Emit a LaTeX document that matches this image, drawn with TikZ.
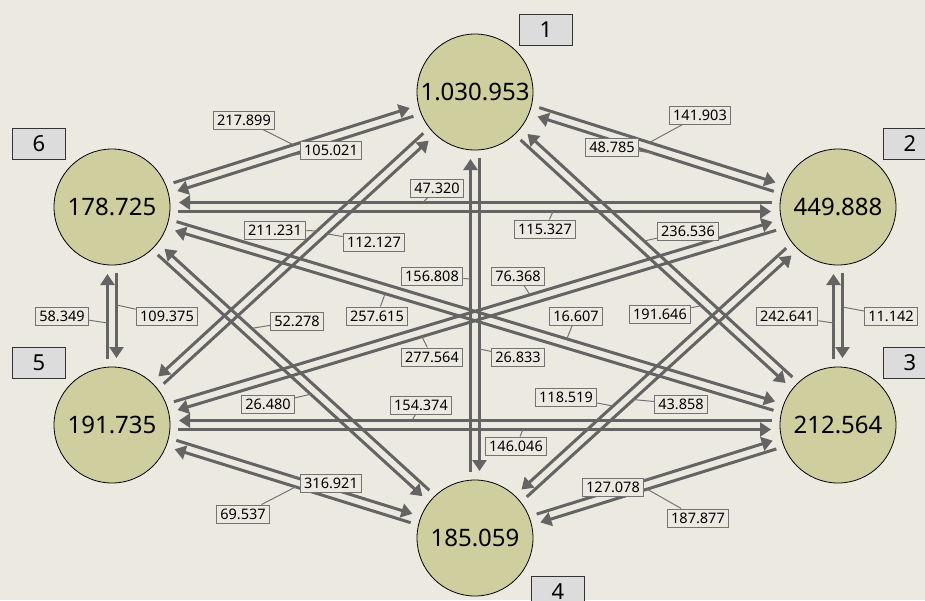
\documentclass[tikz,border=0pt]{standalone}
\usepackage{fontspec}
\setmainfont{Noto Sans}
\usetikzlibrary{calc,arrows.meta}
\definecolor{bg}{RGB}{236,234,224}
\definecolor{ballc}{RGB}{206,206,158}
\definecolor{flowc}{RGB}{100,100,100}
\definecolor{tagc}{RGB}{220,220,220}
\definecolor{valc}{RGB}{115,115,115}
\tikzset{
  ball/.style={circle,draw=black,line width=0.8pt,fill=ballc,minimum size=116pt,inner sep=0pt,font=\fontsize{24}{28}\selectfont},
  flowline/.style={draw=flowc,line width=3pt,shorten <=66pt,shorten >=67pt,-{Triangle[length=11pt,width=14pt]}},
  val/.style={draw=valc,line width=1pt,fill=bg,inner xsep=4pt,inner ysep=0pt,minimum height=18pt,font=\fontsize{14.5}{16}\selectfont},
  lead/.style={draw=valc,line width=1pt},
  tag/.style={draw=black!80,line width=1pt,fill=tagc,minimum width=53pt,minimum height=31pt,inner sep=0pt,font=\fontsize{22}{26}\selectfont}
}
\newcommand\flow[4]{%
  \coordinate (#4s) at ($(#1.center)!#3!90:(#2.center)$);
  \coordinate (#4e) at ($(#2.center)!#3!-90:(#1.center)$);
  \draw[flowline] (#4s) -- (#4e);}
\newcommand\val[5]{%
  \node[val] (#1) at (#2) {#3};
  \draw[lead] (#1) -- ($(#4s)!(#5)!(#4e)$);}
\begin{document}
\begin{tikzpicture}[x=1pt,y=-1pt]
\useasboundingbox (0,0) rectangle (925,600);
\clip (0,0) rectangle (925,600);
\fill[bg] (0,0) rectangle (925,600);
% nodes
\node[ball] (n1) at (475,92) {1.030.953};
\node[ball] (n2) at (838,207) {449.888};
\node[ball] (n3) at (838,425) {212.564};
\node[ball] (n4) at (475,538) {185.059};
\node[ball] (n5) at (112,425) {191.735};
\node[ball] (n6) at (112,207) {178.725};
% tags
\node[tag] (t1) at (546,30) {1};
\node[tag] (t2) at (910,144) {2};
\node[tag] (t3) at (910,363) {3};
\node[tag] (t4) at (558,592) {4};
\node[tag] (t5) at (39,363) {5};
\node[tag] (t6) at (39,144) {6};
% flows, left-hand pairs
\flow{n6}{n1}{4.5pt}{a61}
\flow{n1}{n6}{4.5pt}{a16}
\flow{n1}{n2}{4.5pt}{a12}
\flow{n2}{n1}{4.5pt}{a21}
\flow{n5}{n6}{4.5pt}{a56}
\flow{n6}{n5}{4.5pt}{a65}
\flow{n3}{n2}{4.5pt}{a32}
\flow{n2}{n3}{4.5pt}{a23}
\flow{n4}{n1}{4.5pt}{a41}
\flow{n1}{n4}{4.5pt}{a14}
\flow{n5}{n4}{4.5pt}{a54}
\flow{n4}{n5}{4.5pt}{a45}
\flow{n4}{n3}{4.5pt}{a43}
\flow{n3}{n4}{4.5pt}{a34}
\flow{n5}{n2}{4.5pt}{a52}
\flow{n2}{n5}{4.5pt}{a25}
\flow{n6}{n3}{4.5pt}{a63}
\flow{n3}{n6}{4.5pt}{a36}
% flows, right-hand pairs
\flow{n6}{n2}{-4.5pt}{a62}
\flow{n2}{n6}{-4.5pt}{a26}
\flow{n5}{n3}{-4.5pt}{a53}
\flow{n3}{n5}{-4.5pt}{a35}
\flow{n1}{n5}{-4.5pt}{a15}
\flow{n5}{n1}{-4.5pt}{a51}
\flow{n6}{n4}{-4.5pt}{a64}
\flow{n4}{n6}{-4.5pt}{a46}
\flow{n1}{n3}{-4.5pt}{a13}
\flow{n3}{n1}{-4.5pt}{a31}
\flow{n2}{n4}{-4.5pt}{a24}
\flow{n4}{n2}{-4.5pt}{a42}
% values
\val{v61}{244,120}{217.899}{a61}{288,128}
\val{v16}{331,150}{105.021}{a16}{284,140}
\val{v12}{700,115}{141.903}{a12}{655,125}
\val{v21}{612,147}{48.785}{a21}{658,138}
\val{v26}{437,188}{47.320}{a26}{423,202}
\val{v62}{545,229}{115.327}{a62}{553,213}
\val{v15}{275,230}{211.231}{a15}{318,232}
\val{v51}{374,242}{112.127}{a51}{330,237}
\val{v41}{432,276}{156.808}{a41}{470,279}
\val{v14}{518,357}{26.833}{a14}{480,349}
\val{v52}{518,276}{76.368}{a52}{530,295}
\val{v25}{432,357}{277.564}{a25}{422,337}
\val{v36}{377,316}{257.615}{a36}{384,297}
\val{v63}{576,316}{16.607}{a63}{568,335}
\val{v31}{688,231}{236.536}{a31}{645,240}
\val{v13}{660,314}{191.646}{a13}{702,305}
\val{v56}{62,316}{58.349}{a56}{108,323}
\val{v65}{167,316}{109.375}{a65}{120,305}
\val{v32}{787,316}{242.641}{a32}{833,323}
\val{v23}{891,316}{11.142}{a23}{843,307}
\val{v46}{297,321}{52.278}{a46}{252,328}
\val{v64}{268,404}{26.480}{a64}{310,395}
\val{v35}{421,405}{154.374}{a35}{412,421}
\val{v53}{516,446}{146.046}{a53}{523,432}
\val{v24}{566,397}{118.519}{a24}{612,405}
\val{v42}{681,404}{43.858}{a42}{633,399}
\val{v54}{331,483}{316.921}{a54}{287,490}
\val{v45}{243,514}{69.537}{a45}{290,505}
\val{v43}{613,487}{127.078}{a43}{657,495}
\val{v34}{698,518}{187.877}{a34}{652,505}
\end{tikzpicture}
\end{document}
